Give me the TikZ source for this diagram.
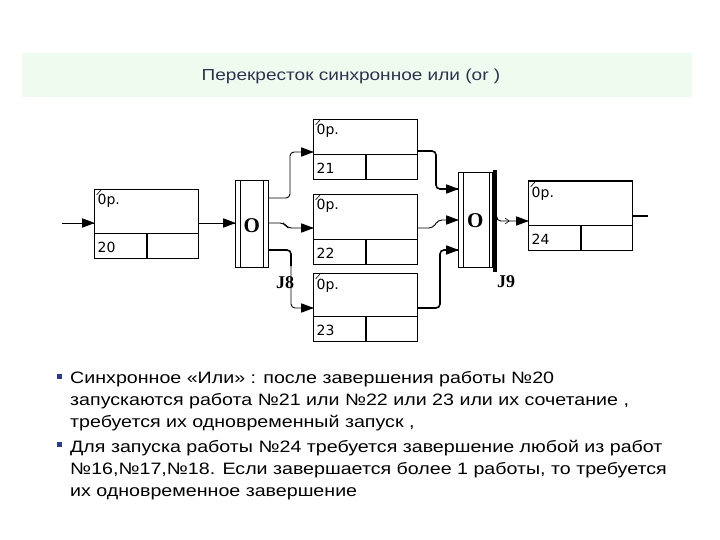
\documentclass[tikz,border=0pt]{standalone}
\usepackage{fontspec}
\setmainfont{Liberation Sans}
\newfontfamily\serifbf{Liberation Serif}
\newfontfamily\bodyfont[FakeStretch=1.19]{Liberation Sans}
\newfontfamily\boxfont{DejaVu Sans}
\usetikzlibrary{calc}
\definecolor{bandgreen}{HTML}{F0FBF0}
\definecolor{titlecol}{HTML}{30334F}
\definecolor{bulletcol}{HTML}{2A3C8C}
\tikzset{
  x=1pt,y=-1pt,
  opbox/.style={draw,line width=0.8pt,minimum width=104pt,anchor=north west,inner sep=0pt},
  junct/.style={draw,line width=0.8pt,anchor=north west,inner sep=0pt},
  conn/.style={line width=0.9pt,rounded corners=4pt},
  thickconn/.style={line width=1.6pt,rounded corners=4pt},
  tipfill/.style={fill=black,draw=black,line width=0.8pt,line join=round},
  optext/.style={font=\boxfont\fontsize{14}{14}\selectfont,anchor=base west,inner sep=0pt},
  jtext/.style={font=\serifbf\bfseries\fontsize{21}{21}\selectfont,inner sep=0pt},
  jlabel/.style={font=\serifbf\bfseries\fontsize{18}{18}\selectfont,inner sep=0pt},
  bodytext/.style={font=\bodyfont\fontsize{16.5}{16.5}\selectfont,anchor=base west,inner sep=0pt,text=black},
  bullet/.style={fill=bulletcol,minimum size=5pt,inner sep=0pt}
}
\begin{document}
\begin{tikzpicture}
\useasboundingbox (0,0) rectangle (720,540);
\fill[white] (0,0) rectangle (720,540);
% title band
\fill[bandgreen] (22,53) rectangle (692,97);
\node[text=titlecol,font=\bodyfont\fontsize{16}{16}\selectfont] (title) at (351,76) {Перекресток синхронное или (or )};

% operation boxes
\node[opbox,minimum height=69pt] (b20) at (94,189) {};
\node[opbox,minimum height=60pt] (b21) at (313,119) {};
\node[opbox,minimum height=70pt] (b22) at (313,194) {};
\node[opbox,minimum height=68pt] (b23) at (313,273) {};
\node[opbox,minimum height=69pt] (b24) at (528,181) {};
\foreach \b/\n in {b20/20,b21/21,b22/22,b23/23,b24/24}{
  \draw[line width=0.8pt] ($(\b.south west)+(0,-25)$) -- ($(\b.south east)+(0,-25)$);
  \draw[line width=1.4pt] ($(\b.south west)+(53,0)$) -- ($(\b.south west)+(53,-25)$);
  \draw[line width=0.6pt] ($(\b.north west)+(2.5,6)$) -- ($(\b.north west)+(7,1)$);
  \node[optext] at ($(\b.north west)+(3.5,16)$) {0p.};
  \node[optext] at ($(\b.south west)+(3.5,-6)$) {\n};
}
\draw[line width=2pt] (b24.north west) -- (b24.north east);

% junctions
\node[junct,minimum width=33pt,minimum height=87pt] (j8) at (235,180) {};
\draw[line width=0.8pt] ($(j8.north west)+(5.5,0)$) -- ($(j8.south west)+(5.5,0)$);
\draw[line width=0.8pt] ($(j8.north east)+(-5,0)$) -- ($(j8.south east)+(-5,0)$);
\node[jtext] (o8) at ($(j8.center)+(0,2)$) {O};
\node[jlabel] (l8) at (285,283) {J8};

\node[junct,minimum width=34pt,minimum height=95pt] (j9) at (458,172) {};
\draw[line width=0.8pt] ($(j9.north west)+(5,0)$) -- ($(j9.south west)+(5,0)$);
\draw[line width=0.8pt] ($(j9.north east)+(-3,0)$) -- ($(j9.south east)+(-3,0)$);
\draw[line width=4pt] ($(j9.north east)+(2,-2)$) -- ($(j9.south east)+(2,4)$);
\node[jtext] (o9) at ($(j9.center)+(0,1)$) {O};
\node[jlabel] (l9) at (506,282) {J9};

% connectors
\coordinate (in) at (62,223);
\coordinate (out) at (648,216);
\draw[conn] (in) -- (b20.west |- 0,223);
\draw[conn] (b20.east |- 0,223) -- (j8.west |- 0,223);
\draw[conn] (j8.east |- 0,198) -- (290,198) -- (290,152) -- (b21.west |- 0,152);
\draw[conn] (j8.east |- 0,223) -- (284,223) -- (287.5,228) -- (b22.west |- 0,228);
\draw[thickconn] (j8.east |- 0,250) -- (291,250) -- (291,266);
\draw[conn] (291,265) -- (291,308) -- (b23.west |- 0,308);
\draw[thickconn] (b21.east |- 0,151) -- (436,151) -- (436,189) -- (j9.west |- 0,189);
\draw[conn] (b22.east |- 0,228) -- (433,228) -- (438,220) -- (j9.west |- 0,220);
\draw[thickconn] (b23.east |- 0,308) -- (440,308) -- (440,250) -- (j9.west |- 0,250);
\draw[conn] ($(j9.east)+(4,0)$) |- (b24.west |- 0,221);
\draw[line width=0.6pt] (505,218) -- (509,221) -- (505,224);
\draw[line width=2pt] (b24.east |- 0,216) -- (out);

% arrowheads (all point right)
\foreach \x/\y in {94/223, 235/223, 313/152, 313/228, 313/308, 458/189, 458/220, 458/250, 528/221}{
  \filldraw[tipfill] (\x-0.5,\y) -- (\x-11.5,\y-4.2) -- (\x-11.5,\y+4.2) -- cycle;
}

% text
\node[bullet] (bu1) at (59.5,376.5) {};
\node[bodytext] (t1) at (70,383) {Синхронное «Или» : после завершения работы №20};
\node[bodytext] (t2) at (70,405) {запускаются работа №21 или №22 или 23 или их сочетание ,};
\node[bodytext] (t3) at (70,427) {требуется их одновременный запуск ,};
\node[bullet] (bu2) at (59.5,444.5) {};
\node[bodytext] (t4) at (70,452) {Для запуска работы №24 требуется завершение любой из работ};
\node[bodytext] (t5) at (70,474) {№16,№17,№18. Если завершается более 1 работы, то требуется};
\node[bodytext] (t6) at (70,496) {их одновременное завершение};
\end{tikzpicture}
\end{document}
